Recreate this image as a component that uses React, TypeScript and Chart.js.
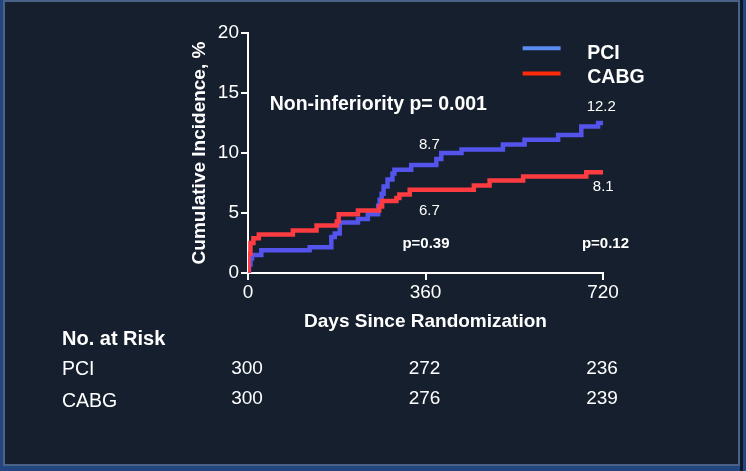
import React, { useEffect, useRef } from 'react';
import { Chart, registerables } from 'chart.js';

Chart.register(...registerables);

// ---- data ----
const pciDays = [0, 2, 5, 8, 27, 125, 169, 176, 186, 223, 243, 264, 267, 271, 275, 283, 293, 297, 331, 382, 392, 433, 517, 561, 629, 676, 710, 720];
const pciValues = [0, 0.7, 1.2, 1.5, 1.9, 2.15, 3.0, 3.3, 4.2, 4.5, 4.9, 5.6, 6.1, 6.6, 7.2, 7.8, 8.3, 8.6, 9.0, 9.5, 10.0, 10.3, 10.7, 11.1, 11.5, 12.2, 12.5, 12.5];

const cabgDays = [0, 1, 5, 11, 22, 91, 139, 180, 184, 223, 266, 272, 301, 307, 328, 458, 490, 558, 686, 720];
const cabgValues = [0, 1.6, 2.5, 2.9, 3.2, 3.55, 3.95, 4.3, 4.9, 5.2, 5.55, 6.0, 6.25, 6.55, 6.94, 7.3, 7.7, 8.05, 8.4, 8.4];

const xTickValues = [0, 360, 720];
const yTickValues = [0, 5, 10, 15, 20];

const riskDays = [0, 360, 720];
const pciAtRisk = [300, 272, 236];
const cabgAtRisk = [300, 276, 239];

const seriesNames = ['PCI', 'CABG'];
const pciEndLabels = ['8.7', '12.2'];
const cabgEndLabels = ['6.7', '8.1'];
const pValues = ['p=0.39', 'p=0.12'];
const nonInferiorityText = 'Non-inferiority p= 0.001';

// ---- styles ----
const FONT = '"Liberation Sans", Arial, Helvetica, sans-serif';
const PCI_COLOR = '#5454ec';
const CABG_COLOR = '#fc3c40';
const PCI_LEGEND = '#5b8cf2';
const CABG_LEGEND = '#ff2a0a';
const WHITE = '#ffffff';

const overlayPlugin = {
  id: 'overlay',
  afterDraw(chart: any) {
    const { ctx, chartArea } = chart;
    const xs = chart.scales.x;
    const ys = chart.scales.y;
    const px = (d: number) => xs.getPixelForValue(d);
    const py = (v: number) => ys.getPixelForValue(v);
    ctx.save();
    ctx.fillStyle = WHITE;
    ctx.textBaseline = 'alphabetic';
    const txt = (s: string, x: number, y: number, font: string, align: CanvasTextAlign) => {
      ctx.font = font;
      ctx.textAlign = align;
      ctx.fillText(s, x, y);
    };
    const bold = (n: number) => `bold ${n}px ${FONT}`;
    const reg = (n: number) => `${n}px ${FONT}`;

    // annotation texts
    txt(nonInferiorityText, px(44), py(13.55), bold(19.5), 'left');
    txt(pciEndLabels[0], px(368), py(10.36), reg(15), 'center');
    txt(pciEndLabels[1], px(716.5), py(13.47), reg(15), 'center');
    txt(cabgEndLabels[0], px(368), py(4.86), reg(15), 'center');
    txt(cabgEndLabels[1], px(720.5), py(6.8), reg(15), 'center');
    txt(pValues[0], px(361), py(2.08), bold(15), 'center');
    txt(pValues[1], px(725), py(2.08), bold(15), 'center');

    // legend
    ctx.lineWidth = 4;
    ctx.lineCap = 'butt';
    ctx.strokeStyle = PCI_LEGEND;
    ctx.beginPath();
    ctx.moveTo(px(557), py(18.72));
    ctx.lineTo(px(634), py(18.72));
    ctx.stroke();
    ctx.strokeStyle = CABG_LEGEND;
    ctx.beginPath();
    ctx.moveTo(px(557), py(16.63));
    ctx.lineTo(px(634), py(16.63));
    ctx.stroke();
    txt(seriesNames[0], px(688), py(17.86), bold(19.5), 'left');
    txt(seriesNames[1], px(688), py(15.83), bold(19.5), 'left');

    // number at risk table
    const b = chartArea.bottom;
    txt('No. at Risk', 62, b + 72, bold(20), 'left');
    txt(seriesNames[0], 62, b + 102, reg(19.5), 'left');
    txt(seriesNames[1], 62, b + 133.5, reg(19.5), 'left');
    riskDays.forEach((d, i) => {
      txt(String(pciAtRisk[i]), px(d) - 1, b + 101, reg(19), 'center');
      txt(String(cabgAtRisk[i]), px(d) - 1, b + 131, reg(19), 'center');
    });
    ctx.restore();
  },
};

export default function App() {
  const canvasRef = useRef<HTMLCanvasElement | null>(null);

  useEffect(() => {
    if (!canvasRef.current) return;
    const toPoints = (days: number[], vals: number[]) => days.map((d, i) => ({ x: d, y: vals[i] }));
    const chart = new Chart(canvasRef.current, {
      type: 'line',
      data: {
        datasets: [
          {
            label: seriesNames[1],
            data: toPoints(cabgDays, cabgValues),
            borderColor: CABG_COLOR,
            borderWidth: 4.5,
            stepped: 'before',
            pointRadius: 0,
            fill: false,
          },
          {
            label: seriesNames[0],
            data: toPoints(pciDays, pciValues),
            borderColor: PCI_COLOR,
            borderWidth: 4.5,
            stepped: 'before',
            pointRadius: 0,
            fill: false,
          },
        ],
      },
      options: {
        animation: false,
        responsive: true,
        maintainAspectRatio: false,
        layout: { padding: { left: 0, top: 33, right: 143, bottom: 136 } },
        plugins: { legend: { display: false }, tooltip: { enabled: false } },
        scales: {
          x: {
            type: 'linear',
            min: 0,
            max: 720,
            afterBuildTicks: (s: any) => {
              s.ticks = xTickValues.map((v) => ({ value: v }));
            },
            ticks: { color: WHITE, font: { family: FONT, size: 19 }, padding: 1, maxRotation: 0, autoSkip: false },
            grid: { drawOnChartArea: false, drawTicks: true, tickLength: 7, color: WHITE, lineWidth: 2 },
            border: { display: true, color: WHITE, width: 2 },
            title: {
              display: true,
              text: 'Days Since Randomization',
              color: WHITE,
              font: { family: FONT, size: 19, weight: 'bold' },
              padding: { top: 0, bottom: 2 },
            },
            afterFit: (s: any) => {
              s.height = 62;
            },
          },
          y: {
            type: 'linear',
            min: 0,
            max: 20,
            afterBuildTicks: (s: any) => {
              s.ticks = yTickValues.map((v) => ({ value: v }));
            },
            ticks: { color: WHITE, font: { family: FONT, size: 19 }, padding: 2 },
            grid: { drawOnChartArea: false, drawTicks: true, tickLength: 7, color: WHITE, lineWidth: 2 },
            border: { display: true, color: WHITE, width: 2 },
            title: {
              display: true,
              text: 'Cumulative Incidence, %',
              color: WHITE,
              font: { family: FONT, size: 19, weight: 'bold' },
              padding: { top: 188.5, bottom: 0 },
            },
            afterFit: (s: any) => {
              s.width = 248;
            },
          },
        },
      } as any,
      plugins: [overlayPlugin],
    });
    return () => chart.destroy();
  }, []);

  return (
    <div style={{ position: 'absolute', left: 0, top: 0, width: 746, height: 471, background: '#24467f', overflow: 'hidden' }}>
      <div
        style={{
          position: 'absolute',
          left: 3,
          top: 0,
          width: 737,
          height: 466,
          boxSizing: 'border-box',
          border: '2px solid #4a6286',
          background: '#151f2e',
        }}
      />
      <div style={{ position: 'absolute', left: 740, top: 0, width: 3, height: 471, background: '#0f1828' }} />
      <div style={{ position: 'absolute', left: 0, top: 0, width: 746, height: 471 }}>
        <canvas ref={canvasRef} />
      </div>
    </div>
  );
}
